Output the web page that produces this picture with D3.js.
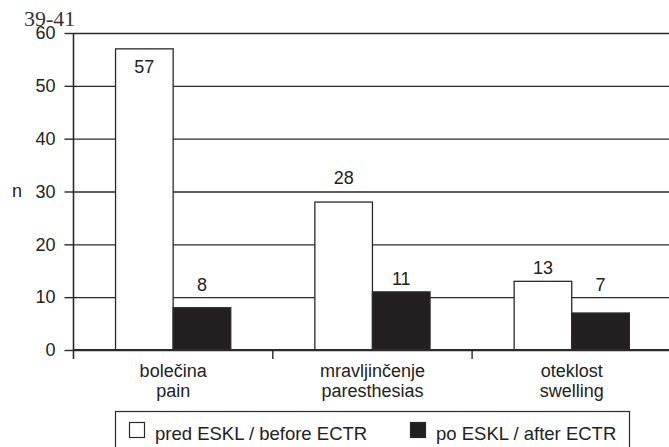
<!DOCTYPE html>
<html>
<head>
<meta charset="utf-8">
<script src="https://cdn.jsdelivr.net/npm/d3@7/dist/d3.min.js"></script>
<style>
  html, body { margin: 0; padding: 0; background: #fff; }
  svg { display: block; }
</style>
</head>
<body>
<svg id="chart" width="669" height="447"></svg>
<script>
// ---- data ----
const categories = ["bolečina|pain", "mravljinčenje|paresthesias", "oteklost|swelling"];
const seriesNames = ["pred ESKL / before ECTR", "po ESKL / after ECTR"];
const beforeValues = [57, 28, 13];
const afterValues = [8, 11, 7];
const yTicks = [0, 10, 20, 30, 40, 50, 60];
const yLabel = "n";
const pageRef = "39-41";

// label placement (px, relative to bar top; positive = downward)
const labelOffsetBefore = [24, -18, -7];
const labelOffsetAfter = [-17, -7, -22];

// ---- layout ----
const svg = d3.select("#chart");
const W = 669, H = 447;
const axisX = 73.5, y0px = 350, y60px = 33;
const step = 199.3;
const ink = "#2a2a2a";
const font = "'Liberation Sans', Arial, Helvetica, sans-serif";
const fs = 18;

const y = d3.scaleLinear().domain([0, 60]).range([y0px, y60px]);
const x0 = d3.scaleBand().domain(categories).range([axisX, axisX + step * categories.length]).padding(0);
const x1 = d3.scaleBand().domain([0, 1]).range([0, x0.bandwidth()]).paddingInner(0).paddingOuter(0.73);

const rows = categories.map((c, i) => ({ c, v: [beforeValues[i], afterValues[i]], off: [labelOffsetBefore[i], labelOffsetAfter[i]] }));

// gridlines
const grid = svg.append("g").attr("transform", `translate(${axisX},0)`)
  .call(d3.axisLeft(y).tickValues(yTicks).tickSize(-(W - axisX + 5)).tickFormat(""));
grid.select(".domain").remove();
grid.selectAll("line").attr("stroke", ink).attr("stroke-width", 1.4);

// bars
const g = svg.append("g");
rows.forEach((r, ci) => {
  r.v.forEach((v, si) => {
    const bx = x0(r.c) + x1(si);
    g.append("rect")
      .attr("x", bx).attr("y", y(v))
      .attr("width", x1.bandwidth()).attr("height", y(0) - y(v))
      .attr("fill", si === 0 ? "#ffffff" : "#231f20")
      .attr("stroke", ink).attr("stroke-width", 1.3);
    g.append("text")
      .attr("x", bx + x1.bandwidth() / 2)
      .attr("y", y(v) + r.off[si])
      .attr("text-anchor", "middle")
      .attr("font-family", font).attr("font-size", fs).attr("fill", "#222")
      .text(v);
  });
});

// baseline
svg.append("line").attr("x1", axisX).attr("x2", W + 5).attr("y1", y(0)).attr("y2", y(0))
  .attr("stroke", ink).attr("stroke-width", 1.8);

// left axis with ticks & labels
const ya = svg.append("g").attr("transform", `translate(${axisX},0)`)
  .call(d3.axisLeft(y).tickValues(yTicks).tickSize(9).tickPadding(9).tickSizeOuter(0));
ya.select(".domain").remove();
ya.selectAll("line").attr("stroke", ink).attr("stroke-width", 1.4);
ya.selectAll("text").attr("font-family", font).attr("font-size", fs).attr("fill", "#222");
svg.append("line").attr("x1", axisX).attr("x2", axisX).attr("y1", y(60)).attr("y2", y(0) + 9)
  .attr("stroke", ink).attr("stroke-width", 1.6);

// category boundary ticks
svg.append("g").selectAll("line").data(categories.slice(1)).join("line")
  .attr("x1", d => x0(d)).attr("x2", d => x0(d))
  .attr("y1", y(0)).attr("y2", y(0) + 9)
  .attr("stroke", ink).attr("stroke-width", 1.4);

// category labels (two lines)
const xa = svg.append("g").attr("transform", `translate(0,${y0px})`)
  .call(d3.axisBottom(x0).tickSize(0).tickPadding(0).tickFormat(""));
xa.select(".domain").remove();
xa.selectAll(".tick").each(function(d) {
  const parts = d.split("|");
  const t = d3.select(this).append("text")
    .attr("text-anchor", "middle").attr("font-family", font).attr("font-size", fs).attr("fill", "#222");
  t.append("tspan").attr("x", 0).attr("y", 27).text(parts[0]);
  t.append("tspan").attr("x", 0).attr("y", 47).text(parts[1]);
});

// y label
svg.append("text").attr("x", 17).attr("y", 197).attr("text-anchor", "middle")
  .attr("font-family", font).attr("font-size", fs).attr("fill", "#222").text(yLabel);

// page ref
svg.append("text").attr("x", 24).attr("y", 26)
  .attr("font-family", "'Liberation Serif', 'Times New Roman', serif").attr("font-size", 22).attr("fill", "#333")
  .text(pageRef);

// legend
const lg = svg.append("g");
lg.append("rect").attr("x", 115.5).attr("y", 411.5).attr("width", 514).attr("height", 60)
  .attr("fill", "#fff").attr("stroke", ink).attr("stroke-width", 1.2);
const legX = [129, 410];
seriesNames.forEach((s, i) => {
  lg.append("rect").attr("x", legX[i] + 0.5).attr("y", 422.5).attr("width", 15).attr("height", 15)
    .attr("fill", i === 0 ? "#fff" : "#231f20").attr("stroke", ink).attr("stroke-width", 1.2);
  lg.append("text").attr("x", legX[i] + 26).attr("y", 440)
    .attr("font-family", font).attr("font-size", 18.5).attr("fill", "#222").text(s);
});
</script>
</body>
</html>
